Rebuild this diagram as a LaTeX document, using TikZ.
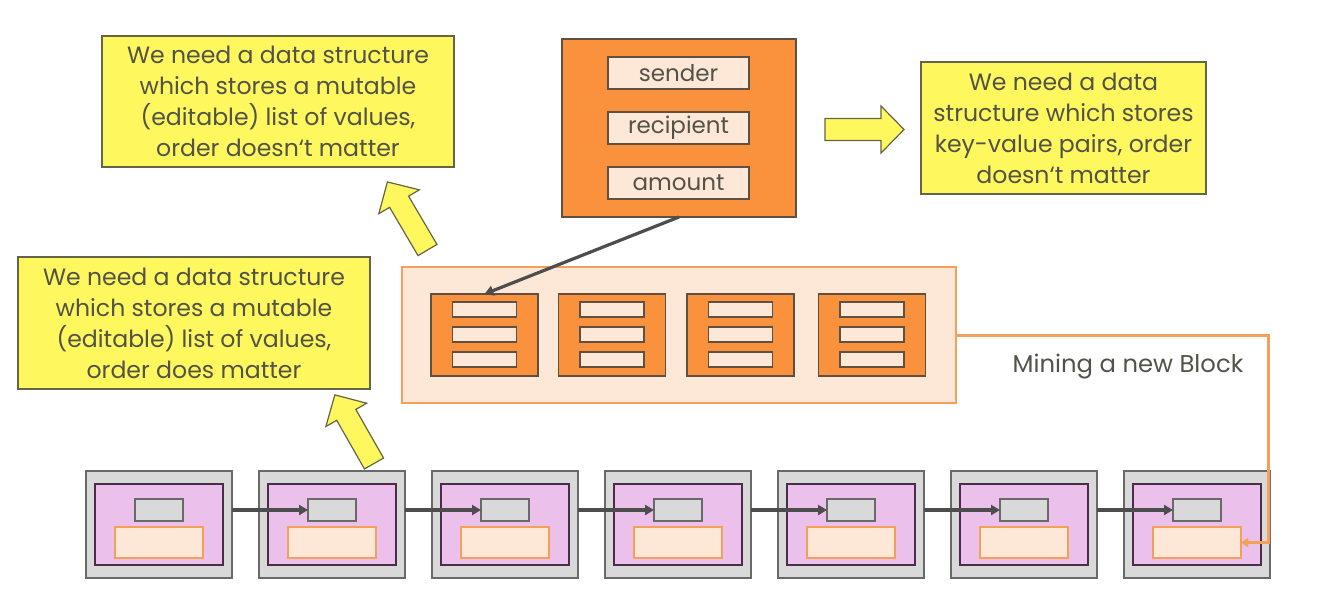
\documentclass[tikz,border=0pt]{standalone}
\usepackage{fontspec}
\setmainfont{Poppins}
\usetikzlibrary{arrows.meta,calc}
\definecolor{yel}{RGB}{255,247,94}
\definecolor{yelborder}{RGB}{100,100,70}
\definecolor{org}{RGB}{250,145,60}
\definecolor{orgborder}{RGB}{95,80,65}
\definecolor{peach}{RGB}{253,232,215}
\definecolor{peachborder}{RGB}{245,160,90}
\definecolor{purp}{RGB}{235,192,235}
\definecolor{purpborder}{RGB}{75,45,75}
\definecolor{gry}{RGB}{217,217,217}
\definecolor{gryborder}{RGB}{105,105,105}
\definecolor{darkline}{RGB}{77,77,77}
\definecolor{txt}{RGB}{82,82,72}
\tikzset{
  box/.style={rectangle, inner sep=0pt, outer sep=0pt},
  yelbox/.style={box, fill=yel, draw=yelborder, line width=1.2pt, text=txt, align=center,
     font=\fontsize{23.6}{31}\selectfont},
  txbox/.style={box, fill=org, draw=orgborder, line width=1.2pt},
  field/.style={box, fill=peach, draw=orgborder, line width=1.2pt, text=txt,
     font=\fontsize{23}{28}\selectfont},
  pool/.style={box, fill=peach, draw=peachborder, line width=1.2pt},
  row/.style={box, fill=peach, draw=orgborder, line width=1.1pt, minimum width=64pt, minimum height=15pt},
  outerblk/.style={box, fill=gry, draw=gryborder, line width=1.2pt, minimum width=146pt, minimum height=107pt},
  innerblk/.style={box, fill=purp, draw=purpborder, line width=1.2pt, minimum width=128pt, minimum height=81pt},
  hashblk/.style={box, fill=gry, draw=gryborder, line width=1.2pt, minimum width=48pt, minimum height=22pt},
  datablk/.style={box, fill=peach, draw=peachborder, line width=1.2pt, minimum width=88pt, minimum height=31pt},
  chainarrow/.style={draw=darkline, line width=3.2pt, -{Triangle[length=9pt,width=10pt]}},
  minearrow/.style={draw=peachborder, line width=3pt, -{Triangle[length=7pt,width=9pt]}},
  fatarrow/.style={fill=yel, draw=yelborder, line width=1.2pt, line join=miter},
}
\newcommand{\drawfatarrow}[3]{%
  \draw[fatarrow, shift={(#1,#2)}, rotate=#3]
    (0,-11) -- (56,-11) -- (56,-23.5) -- (79,0) -- (56,23.5) -- (56,11) -- (0,11) -- cycle;}
\begin{document}
\begin{tikzpicture}[x=1pt,y=-1pt]
\useasboundingbox (0,0) rectangle (1343,600);
% yellow text boxes
\node[yelbox, minimum width=352pt, minimum height=131pt] (y1) at (278,101.5)
  {We need a data structure\\which stores a mutable\\(editable) list of values,\\order doesn‘t matter};
\node[yelbox, minimum width=352pt, minimum height=132pt] (y2) at (194,323)
  {We need a data structure\\which stores a mutable\\(editable) list of values,\\order does matter};
\node[yelbox, minimum width=285pt, minimum height=132pt] (y3) at (1063.5,128)
  {We need a data\\structure which stores\\key-value pairs, order\\doesn‘t matter};
% transaction
\node[txbox, minimum width=234pt, minimum height=178pt] (tx) at (679,128) {};
\node[field, minimum width=141pt, minimum height=32pt] (fs) at (678.5,73) {sender};
\node[field, minimum width=141pt, minimum height=32pt] (fr) at (678.5,128) {recipient};
\node[field, minimum width=141pt, minimum height=32pt] (fa) at (678.5,183) {amount};
% mempool
\node[pool, minimum width=554pt, minimum height=136pt] (pool) at (679,335) {};
\foreach \i/\cx in {1/484.5,2/612,3/740.5,4/872}{
  \node[txbox, minimum width=107pt, minimum height=82pt] (m\i) at (\cx,335) {};
  \node[row] (m\i a) at (\cx,309.5) {};
  \node[row] (m\i b) at (\cx,334.5) {};
  \node[row] (m\i c) at (\cx,359.5) {};
}
\draw[chainarrow] (tx.south) -- (m1.north);
% fat arrows
\drawfatarrow{825}{129.5}{0}
\drawfatarrow{427.5}{250}{120.5}
\drawfatarrow{374}{463.5}{119.7}
% blockchain
\foreach \i in {0,...,6}{
  \pgfmathsetmacro{\cx}{159+173*\i}
  \node[outerblk] (b\i) at (\cx,524.5) {};
  \node[innerblk] (p\i) at (\cx,524.5) {};
  \node[hashblk] (h\i) at (\cx,510) {};
  \node[datablk] (d\i) at (\cx,542.5) {};
}
\foreach \i/\j in {0/1,1/2,2/3,3/4,4/5,5/6}{
  \draw[chainarrow] (b\i.east |- h\j.west) -- (h\j.west);
}
% mining connector
\coordinate (turn) at (1268,335);
\draw[minearrow] (pool.east) -- (turn) |- (d6.east);
\node[text=txt, font=\fontsize{24.3}{28}\selectfont] (mine) at (1128,367) {Mining a new Block};
\end{tikzpicture}
\end{document}
